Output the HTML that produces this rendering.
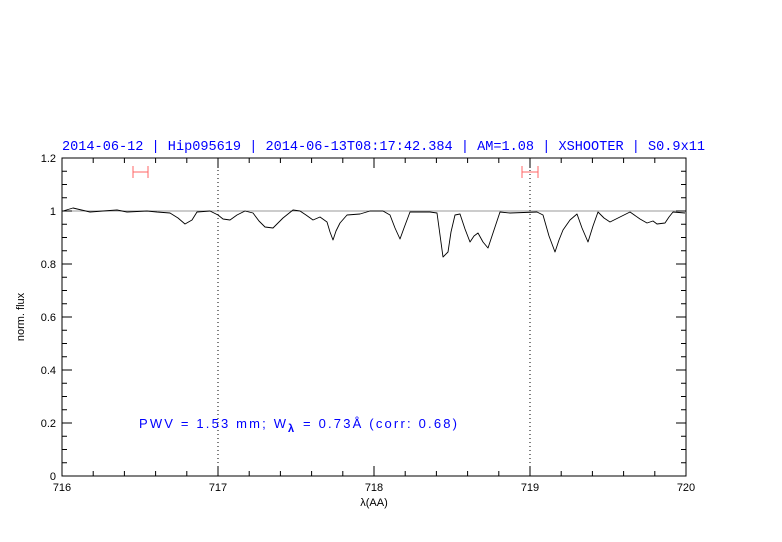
<!DOCTYPE html>
<html><head><meta charset="utf-8"><style>body{margin:0;background:#fff}svg{display:block}</style></head><body>
<svg width="782" height="542" xmlns="http://www.w3.org/2000/svg" font-family="Liberation Sans, sans-serif">
<rect width="782" height="542" fill="#fff"/>
<text x="62" y="150" font-size="13.5" fill="#0000ff" font-family="Liberation Mono, monospace" textLength="643" lengthAdjust="spacingAndGlyphs">2014-06-12 | Hip095619 | 2014-06-13T08:17:42.384 | AM=1.08 | XSHOOTER | S0.9x11</text>
<g stroke="#000" stroke-width="1">
<line x1="62" y1="211" x2="686" y2="211" stroke="#999"/>
<line x1="218" y1="158" x2="218" y2="476" stroke-dasharray="1,3"/>
<line x1="530" y1="158" x2="530" y2="476" stroke-dasharray="1,3"/>
<rect x="62" y="158" width="624" height="318" fill="none"/>
</g>
<g stroke="#f66" stroke-width="1">
<line x1="133" y1="172" x2="148" y2="172"/><line x1="133" y1="166" x2="133" y2="178"/><line x1="148" y1="166" x2="148" y2="178"/>
<line x1="522" y1="172" x2="538" y2="172"/><line x1="522" y1="166" x2="522" y2="178"/><line x1="538" y1="166" x2="538" y2="178"/>
</g>
<polyline fill="none" stroke="#000" stroke-width="0.9" stroke-linejoin="round" points="63,211 73,208 90,212 103,211 117,210 127,212 147,211 157,212 170,213 178,218 185,224 192,220 197,212 210,211 218,215 223,219 230,220 237,215 245,211 253,213 259,221 265,227 273,228 283,218 293,210 300,211 306,215 313,220 320,217 327,222 330,232 333,240 336,231 340,223 347,215 360,214 370,211 383,211 390,215 395,228 400,239 404,228 407,220 410,212 430,212 437,213 440,235 443,257 448,252 451,232 455,215 460,214 465,229 470,242 474,236 478,233 483,242 488,248 494,230 500,212 510,213 537,212 543,215 549,236 555,252 559,240 563,230 570,220 577,214 582,228 588,242 593,226 598,212 604,218 610,222 620,217 630,212 640,219 647,223 653,221 657,224 665,223 669,217 673,212 685,213"/>
<g stroke="#000" stroke-width="1">
<path d="M62,476v-10M218,476v-10M374,476v-10M530,476v-10M686,476v-10M62,158v10M218,158v10M374,158v10M530,158v10M686,158v10
M93.2,476v-5M124.4,476v-5M155.6,476v-5M186.8,476v-5M249.2,476v-5M280.4,476v-5M311.6,476v-5M342.8,476v-5M405.2,476v-5M436.4,476v-5M467.6,476v-5M498.8,476v-5M561.2,476v-5M592.4,476v-5M623.6,476v-5M654.8,476v-5
M93.2,158v5M124.4,158v5M155.6,158v5M186.8,158v5M249.2,158v5M280.4,158v5M311.6,158v5M342.8,158v5M405.2,158v5M436.4,158v5M467.6,158v5M498.8,158v5M561.2,158v5M592.4,158v5M623.6,158v5M654.8,158v5
M62,476h10M62,423h10M62,370h10M62,317h10M62,264h10M62,211h10M62,158h10M686,476h-10M686,423h-10M686,370h-10M686,317h-10M686,264h-10M686,211h-10M686,158h-10
M62,462.75h5M62,449.5h5M62,436.25h5M62,409.75h5M62,396.5h5M62,383.25h5M62,356.75h5M62,343.5h5M62,330.25h5M62,303.75h5M62,290.5h5M62,277.25h5M62,250.75h5M62,237.5h5M62,224.25h5M62,197.75h5M62,184.5h5M62,171.25h5
M686,462.75h-5M686,449.5h-5M686,436.25h-5M686,409.75h-5M686,396.5h-5M686,383.25h-5M686,356.75h-5M686,343.5h-5M686,330.25h-5M686,303.75h-5M686,290.5h-5M686,277.25h-5M686,250.75h-5M686,237.5h-5M686,224.25h-5M686,197.75h-5M686,184.5h-5M686,171.25h-5"/>
</g>
<g font-size="11" text-anchor="middle" fill="#000">
<text x="62" y="491">716</text><text x="218" y="491">717</text><text x="374" y="491">718</text><text x="530" y="491">719</text><text x="686" y="491">720</text>
<text x="374" y="506">λ(AA)</text>
</g>
<g font-size="11" text-anchor="end" fill="#000">
<text x="56" y="480">0</text><text x="56" y="427">0.2</text><text x="56" y="374">0.4</text><text x="56" y="321">0.6</text><text x="56" y="268">0.8</text><text x="56" y="215">1</text><text x="56" y="162">1.2</text>
</g>
<text transform="translate(24,317) rotate(-90)" font-size="11" text-anchor="middle">norm. flux</text>
<g fill="#0000ff" font-size="13">
<text x="139" y="428" textLength="147" lengthAdjust="spacing">PWV = 1.53 mm; W</text>
<text x="288" y="432" font-size="11" font-weight="bold">λ</text>
<text x="303" y="428" textLength="154" lengthAdjust="spacing">= 0.73Å (corr: 0.68)</text>
</g>
</svg>
</body></html>
